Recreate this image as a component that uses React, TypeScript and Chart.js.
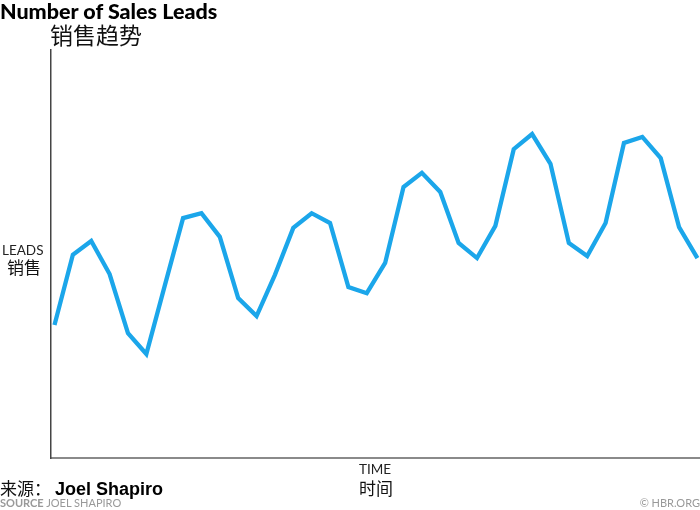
import React, { useEffect, useRef } from "react";
import { Chart, registerables } from "chart.js";

Chart.register(...registerables);

const periods: number[] = Array.from({ length: 36 }, (_, i) => i);
const leads: number[] = [
  32.6, 49.8, 53.2, 45.1, 30.6, 25.5, 42.2, 58.8, 60.0, 54.2, 39.2, 34.8,
  44.9, 56.4, 60.0, 57.6, 41.9, 40.4, 47.8, 66.4, 69.9, 65.2, 52.7, 49.0,
  56.9, 75.7, 79.4, 72.1, 52.7, 49.5, 57.6, 77.2, 78.7, 73.5, 56.6, 49.0,
];

const titleEn = "Number of Sales Leads";
const titleZh = "销售趋势";
const yLabelEn = "LEADS";
const yLabelZh = "销售";
const xLabelEn = "TIME";
const xLabelZh = "时间";
const sourceZh = "来源：";
const sourceName = "Joel Shapiro";
const sourceTag = "SOURCE";
const sourceNameUpper = "JOEL SHAPIRO";
const credit = "© HBR.ORG";

const FONT = "Lato, 'Noto Sans', sans-serif";
const CJK = "'Noto Sans CJK SC', sans-serif";

export default function App() {
  const ref = useRef<HTMLCanvasElement | null>(null);

  useEffect(() => {
    if (!ref.current) return;
    const chart = new Chart(ref.current, {
      type: "line",
      data: {
        datasets: [
          {
            data: periods.map((p, i) => ({ x: p, y: leads[i] })),
            borderColor: "#1ba6ea",
            borderWidth: 4.3,
            pointRadius: 0,
            tension: 0,
            fill: false,
          },
        ],
      },
      options: {
        animation: false,
        responsive: false,
        maintainAspectRatio: false,
        layout: { padding: { left: 51, top: 50, right: 0, bottom: 52 } },
        plugins: { legend: { display: false }, tooltip: { enabled: false } },
        scales: {
          x: {
            type: "linear",
            min: -0.19,
            max: 35.14,
            grid: { display: false, drawTicks: false },
            ticks: { display: false },
            border: { display: true, color: "#8a8a8a", width: 2 },
          },
          y: {
            min: 0,
            max: 100,
            grid: { display: false, drawTicks: false },
            ticks: { display: false },
            border: { display: true, color: "#444", width: 1.5 },
          },
        },
      },
    });
    return () => chart.destroy();
  }, []);

  const abs = (s: React.CSSProperties): React.CSSProperties => ({
    position: "absolute",
    whiteSpace: "nowrap",
    lineHeight: 1,
    margin: 0,
    ...s,
  });

  return (
    <div style={{ position: "fixed", left: 0, top: 0, width: 700, height: 510, background: "#fff", overflow: "hidden" }}>
      <canvas ref={ref} width={700} height={510} style={{ position: "absolute", left: 0, top: 0, width: 700, height: 510 }} />
      <div style={abs({ left: 0, top: 1, fontFamily: FONT, fontWeight: 900, fontSize: 21.5, color: "#000" })}>{titleEn}</div>
      <div style={abs({ left: 50, top: 23, fontFamily: CJK, fontSize: 23, color: "#111" })}>{titleZh}</div>
      <div style={abs({ left: 2, top: 244, fontFamily: FONT, fontSize: 13.5, color: "#222" })}>{yLabelEn}</div>
      <div style={abs({ left: 7, top: 258, fontFamily: CJK, fontSize: 17, color: "#111" })}>{yLabelZh}</div>
      <div style={abs({ left: 359, top: 463, fontFamily: FONT, fontSize: 13.5, color: "#222" })}>{xLabelEn}</div>
      <div style={abs({ left: 359, top: 479, fontFamily: CJK, fontSize: 17, color: "#111" })}>{xLabelZh}</div>
      <div style={abs({ left: 0, top: 479, fontFamily: CJK, fontSize: 17, color: "#111" })}>{sourceZh}</div>
      <div style={abs({ left: 55, top: 480, fontFamily: "'Liberation Sans', Arial, sans-serif", fontWeight: 700, fontSize: 18, color: "#000" })}>{sourceName}</div>
      <div style={abs({ left: 0, top: 497, fontFamily: FONT, fontSize: 11, color: "#999" })}>
        <span style={{ fontWeight: 700 }}>{sourceTag}</span> {sourceNameUpper}
      </div>
      <div style={abs({ right: 0, top: 497, fontFamily: FONT, fontSize: 11, color: "#999" })}>{credit}</div>
    </div>
  );
}
